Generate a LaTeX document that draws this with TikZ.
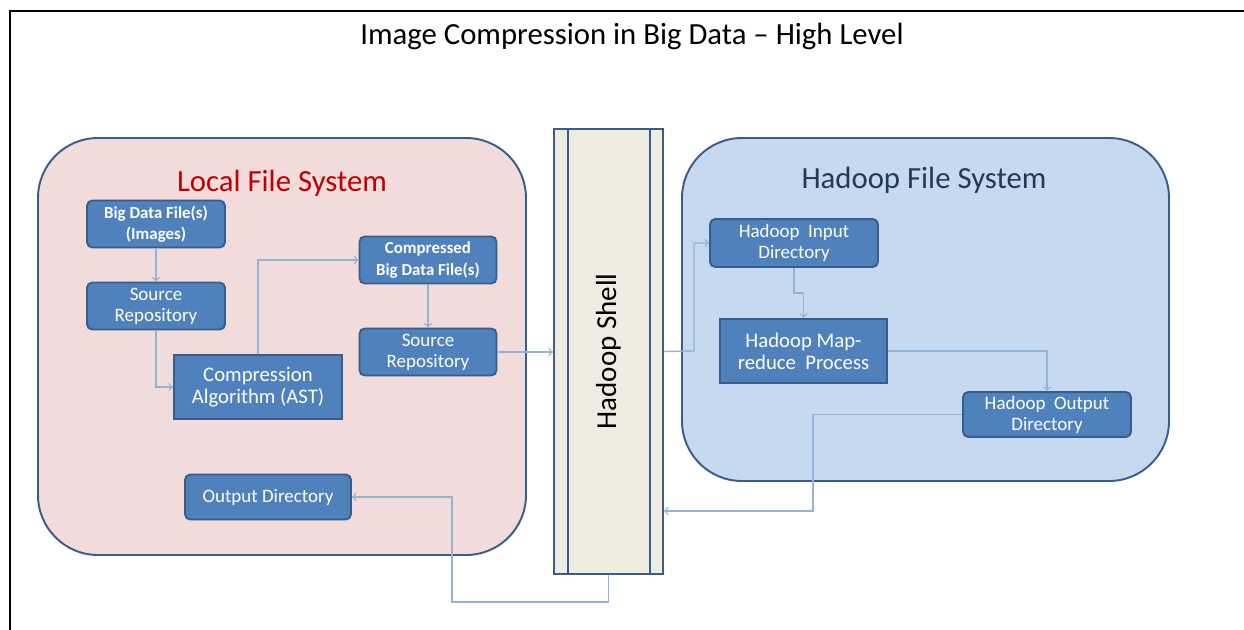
\documentclass[tikz,border=0pt]{standalone}
\usepackage{fontspec}
\setmainfont{Carlito}
\usepackage{tikz}

\definecolor{pinkfill}{RGB}{242,220,219}
\definecolor{hdfsfill}{RGB}{198,217,240}
\definecolor{shellfill}{RGB}{238,236,225}
\definecolor{boxfill}{RGB}{79,129,189}
\definecolor{boxedge}{RGB}{56,93,138}
\definecolor{linkblue}{RGB}{149,179,215}
\definecolor{localred}{RGB}{192,0,0}
\definecolor{hdfstext}{RGB}{36,56,90}

\begin{document}
\begin{tikzpicture}[x=0.02cm,y=-0.02cm,
    area/.style={draw=boxedge,line width=1.1pt,rounded corners=1.2cm},
    box/.style={draw=boxedge,fill=boxfill,line width=1.1pt,rounded corners=3pt,
      inner sep=0pt,align=center,text=white,minimum width=2.76cm,minimum height=0.94cm,
      font=\fontsize{9.6}{12}\selectfont\bfseries},
    midbox/.style={box,font=\fontsize{10.8}{12}\selectfont},
    procbox/.style={box,rounded corners=0pt,minimum width=3.36cm,minimum height=1.28cm,
      font=\fontsize{11.8}{12.5}\selectfont},
    heading/.style={font=\fontsize{17.5}{20}\selectfont},
    link/.style={draw=linkblue,line width=0.8pt,->}]
            \useasboundingbox (0,0) rectangle (1244,629);
            \draw[line width=1pt] (10,640) -- (10,11) -- (1260,11);
            \node[heading] (title) at (632,36) {Image Compression in Big Data -- High Level};

            % local side
            \draw[area,fill=pinkfill] (38,138) rectangle (526,555);
            \node[heading,text=localred] (localtitle) at (282,183) {Local File System};
            \node[box] (bigdata) at (156,224) {Big Data File(s)\\(Images)};
            \node[midbox] (srcrepo) at (156,306) {Source\\Repository};
            \node[procbox] (compalg) at (258,387) {Compression\\Algorithm (AST)};
            \node[box,minimum width=2.74cm] (compressed) at (428,260) {Compressed\\Big Data File(s)};
            \node[midbox,minimum width=2.74cm] (srcrepob) at (428,352) {Source\\Repository};
            \node[midbox,minimum width=3.32cm,minimum height=0.9cm] (outdir) at (268,497) {Output Directory};

            % shell
            \node[draw=boxedge,fill=shellfill,line width=1.1pt,minimum width=2.18cm,minimum height=8.9cm,inner sep=0pt] (shell) at (608.5,351.5) {};
            \draw[boxedge,line width=1.1pt] (568,129) -- (568,574);
            \draw[boxedge,line width=1.1pt] (650,129) -- (650,574);
            \node[rotate=90] at (shell) {\fontsize{16.5}{18}\selectfont Hadoop Shell};

            % hadoop side
            \draw[area,fill=hdfsfill] (682,138) rectangle (1169,481);
            \node[heading,text=hdfstext] (hdfstitle) at (924,180) {Hadoop File System};
            \node[midbox,minimum width=3.36cm,minimum height=0.96cm] (hinput) at (794,243) {Hadoop~ Input\\Directory};
            \node[procbox,minimum width=3.34cm] (mapred) at (803.5,351) {Hadoop Map-\\reduce~ Process};
            \node[midbox,minimum width=3.36cm,minimum height=0.9cm] (houtput) at (1047,414.5) {Hadoop~ Output\\Directory};

            % connectors
            \coordinate (hup) at (694,351);
            \coordinate (hstep) at (794,293);
            \coordinate (back) at (813,511);
            \coordinate (under) at (452,602);
            \draw[link] (bigdata) -- (srcrepo);
            \draw[link] (srcrepo.south) |- (compalg.west);
            \draw[link] (compalg.north) |- (compressed.west);
            \draw[link] (compressed) -- (srcrepob);
            \draw[link] (srcrepob.east) -- (srcrepob -| shell.west);
            \draw[link] (shell.east) -- (hup) |- (hinput.west);
            \draw[link] (hinput.south) -- (hstep) -| (mapred.north);
            \draw[link] (mapred.east) -| (houtput.north);
            \draw[link] (houtput.west) -| (back) -- (back -| shell.east);
            \draw[link] (shell.south) |- (under) |- (outdir.east);
        \end{tikzpicture}
\end{document}
